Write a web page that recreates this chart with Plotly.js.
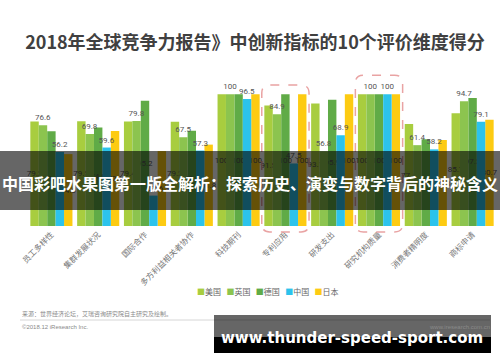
<!DOCTYPE html>
<html>
<head>
<meta charset="utf-8">
<script src="https://cdn.plot.ly/plotly-3.0.1.min.js"></script>
<style>html,body{margin:0;padding:0;background:#fff;}#chart{width:500px;height:362px;}</style>
</head>
<body>
<div id="chart"></div>
<script>
// ---- data ----
const categories = ['员工多样性','集群发展状况','国际合作','多方利益相关者协作','科技期刊','专利应用','研发支出','研究机构质量','消费者精明度','商标申请'];
const seriesNames = ['美国','英国','德国','中国','日本'];
const usa     = [79.3, 79.5, 79.4, 79.2, 100, 91.5, 93.1, 100, 77.4, 85.7];
const uk      = [76.6, 69.8, 79.8, 67.5, 100, 84.9, 56.8, 100, 61.4, 94.7];
const germany = [71.9, 74.8, 95.2, 72.4, 100, 100, 95.9, 100, 65.9, 97.3];
const china   = [56.2, 59.6, 23.1, 57.3, 96.5, 47.5, 68.9, 100, 58.2, 79.1];
const japan   = [54.6, 72.1, 56.9, 61.8, 100, 100, 100, 100, 65.3, 80.7];
const highlighted = ['专利应用','研究机构质量'];
const titleText = '2018年全球竞争力报告》中创新指标的10个评价维度得分';
const bannerText = '中国彩吧水果图第一版全解析：探索历史、演变与数字背后的神秘含义';
const urlText = 'www.thunder-speed-sport.com';
const sourceText = '来源：世界经济论坛，艾瑞咨询研究院自主研究及绘制。';
const copyrightText = '©2018.12 iResearch Inc.';
const siteText = 'www.iresearch.com.cn';

// ---- styles ----
const seriesValues = [usa, uk, germany, china, japan];
const colors = ['#a8cd3f', '#8cc44f', '#60ab47', '#2cc3ec', '#fdcb12'];
const labelPos = ['inside', 'outside', 'inside', 'outside', 'inside'];
const CJK = '"Noto Sans CJK SC", "Noto Sans", sans-serif';

const W = 500, H = 362, L = 28, R = 4, T = 68, B = 136;
const pw = W - L - R, ph = H - T - B;
const YMAX = 120;
const X = px => (px - L) / pw;
const Y = py => (H - B - py) / ph;

const traces = seriesValues.map((vals, k) => ({
  type: 'bar',
  name: seriesNames[k],
  x: categories,
  y: vals,
  marker: {color: colors[k], line: {width: 0}},
  text: vals.map(v => String(v)),
  textposition: labelPos[k],
  insidetextanchor: 'middle',
  textangle: 0,
  constraintext: 'none',
  cliponaxis: false,
  zorder: labelPos[k] === 'outside' ? 1 : 0,
  textfont: {family: 'Roboto, sans-serif', size: 8, color: '#555'},
  hoverinfo: 'skip',
  showlegend: false
}));

// rounded dashed boxes around highlighted categories
function roundedBox(cat, topVal, botVal) {
  const i = categories.indexOf(cat);
  const x0 = (i + 0.5 - 0.505) / categories.length, x1 = (i + 0.5 + 0.505) / categories.length;
  const y0 = botVal / YMAX, y1 = topVal / YMAX;
  const rx = 8 / pw, ry = 8 / ph;
  return `M${x0},${y0 + ry} L${x0},${y1 - ry} Q${x0},${y1} ${x0 + rx},${y1} L${x1 - rx},${y1} Q${x1},${y1} ${x1},${y1 - ry} L${x1},${y0 + ry} Q${x1},${y0} ${x1 - rx},${y0} L${x0 + rx},${y0} Q${x0},${y0} ${x0},${y0 + ry} Z`;
}
const boxTops = [107, 114.5];
const shapes = highlighted.map((c, j) => ({
  type: 'path', xref: 'paper', yref: 'paper', path: roundedBox(c, boxTops[j], -4.5),
  line: {color: '#e9a3a3', width: 1.5, dash: 'dash'}, fillcolor: 'rgba(0,0,0,0)', layer: 'above'
}));
// footer rule
shapes.push({type: 'line', xref: 'paper', yref: 'paper', x0: X(20), x1: X(490), y0: Y(320), y1: Y(320),
  line: {color: '#d6d6d6', width: 1}});
// overlay banner across chart
shapes.push({type: 'rect', xref: 'paper', yref: 'paper', x0: X(0), x1: X(500), y0: Y(210), y1: Y(151),
  fillcolor: 'rgba(0,0,0,0.6)', line: {width: 0}, layer: 'above'});
// url banner
shapes.push({type: 'rect', xref: 'paper', yref: 'paper', x0: X(214), x1: X(491), y0: Y(337), y1: Y(315),
  fillcolor: 'rgba(0,0,0,0.6)', line: {width: 0}, layer: 'above'});
shapes.push({type: 'rect', xref: 'paper', yref: 'paper', x0: X(214), x1: X(491), y0: Y(353), y1: Y(337),
  fillcolor: '#000', line: {width: 0}, layer: 'above'});

// custom compact legend
const legendText = seriesNames.map((n, k) =>
  `<span style="color:${colors[k]}">■</span><span style="color:#666">${n}</span>`).join('   ');

const annotations = [
  {text: legendText, xref: 'paper', yref: 'paper', x: X(268), y: Y(291), showarrow: false,
   xanchor: 'center', yanchor: 'middle', font: {family: CJK, size: 8, color: '#666'}},
  {text: sourceText, xref: 'paper', yref: 'paper', x: X(20), y: Y(313), showarrow: false,
   xanchor: 'left', yanchor: 'middle', font: {family: CJK, size: 6, color: '#8a8a8a'}},
  {text: copyrightText, xref: 'paper', yref: 'paper', x: X(20), y: Y(327), showarrow: false,
   xanchor: 'left', yanchor: 'middle', font: {family: 'Liberation Sans, sans-serif', size: 6, color: '#8a8a8a'}},
  {text: siteText, xref: 'paper', yref: 'paper', x: X(492), y: Y(327), showarrow: false,
   xanchor: 'right', yanchor: 'middle', font: {family: 'Liberation Sans, sans-serif', size: 6, color: '#8a8a8a'}},
  {text: '<b>' + bannerText + '</b>', xref: 'paper', yref: 'paper', x: X(250), y: Y(183), showarrow: false,
   xanchor: 'center', yanchor: 'middle', font: {family: CJK, size: 16, color: '#fff'}},
  {text: '<b>' + urlText + '</b>', xref: 'paper', yref: 'paper', x: X(352), y: Y(338), showarrow: false,
   xanchor: 'center', yanchor: 'middle', font: {family: '"DejaVu Sans", sans-serif', size: 15, color: '#fff'}}
];

const layout = {
  width: W, height: H,
  margin: {l: L, r: R, t: T, b: B, pad: 0},
  paper_bgcolor: '#fff', plot_bgcolor: '#fff',
  title: {text: '<b>' + titleText + '</b>', x: 0.51, xref: 'container', xanchor: 'center',
          y: 1 - 43 / H, yref: 'container', yanchor: 'middle',
          font: {family: CJK, size: 18, color: '#404040'}},
  barmode: 'group', bargap: 0.1, bargroupgap: 0,
  showlegend: false,
  xaxis: {type: 'category', tickangle: -45, showline: true, linecolor: '#d9d9d9', linewidth: 1,
          ticks: '', showgrid: false, zeroline: false, fixedrange: true,
          tickfont: {family: CJK, size: 8, color: '#777'}},
  yaxis: {range: [0, YMAX], visible: false, showgrid: false, zeroline: false, fixedrange: true},
  shapes: shapes,
  annotations: annotations
};

Plotly.newPlot('chart', traces, layout, {displayModeBar: false, staticPlot: true});
</script>
</body>
</html>
